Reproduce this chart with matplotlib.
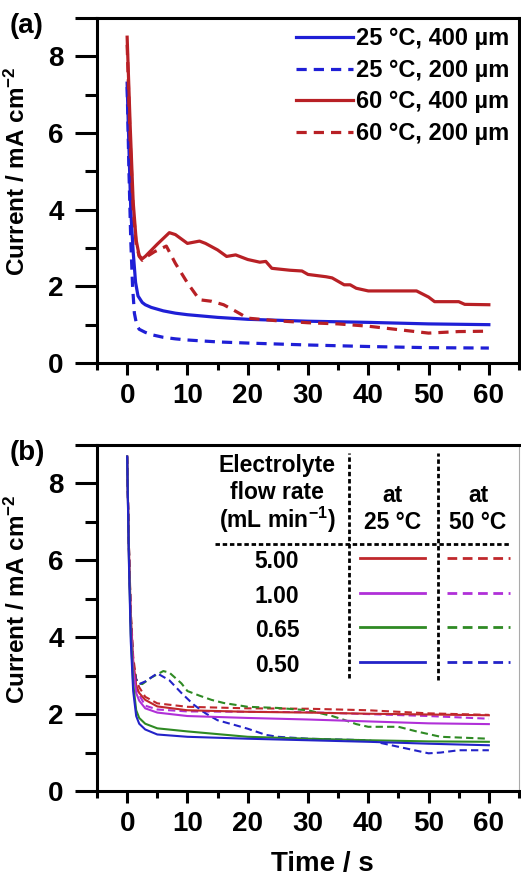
import matplotlib
matplotlib.use('Agg')
from matplotlib import pyplot as plt
from matplotlib.ticker import FixedLocator, NullFormatter

plt.rcParams['font.family'] = ['Liberation Sans', 'DejaVu Sans']
plt.rcParams['font.weight'] = 'bold'
plt.rcParams['mathtext.fontset'] = 'custom'
plt.rcParams['mathtext.bf'] = 'Liberation Sans:bold'
plt.rcParams['mathtext.rm'] = 'Liberation Sans:bold'
plt.rcParams['mathtext.default'] = 'bf'

# ---- panel (a) data ----
a_labels = ['25 °C, 400 µm', '25 °C, 200 µm', '60 °C, 400 µm', '60 °C, 200 µm']

t_a_25_400 = [0, 0.3, 0.6, 1.0, 1.4, 1.8, 2.5, 3, 4, 6, 8, 10, 15, 20, 30, 40, 50, 60]
i_a_25_400 = [7.3, 5.6, 4.0, 2.9, 2.1, 1.75, 1.58, 1.52, 1.45, 1.36, 1.3, 1.26, 1.19, 1.14, 1.09, 1.06, 1.02, 1.0]

t_a_25_200 = [0, 0.3, 0.6, 0.9, 1.2, 1.6, 2, 3, 4, 6, 8, 10, 15, 20, 30, 40, 50, 60]
i_a_25_200 = [7.2, 5.0, 3.2, 2.0, 1.3, 0.98, 0.88, 0.8, 0.74, 0.67, 0.63, 0.6, 0.55, 0.52, 0.47, 0.43, 0.4, 0.39]

t_a_60_400 = [0, 0.5, 1, 1.5, 2, 2.5, 3, 5, 7, 8, 10, 12, 13, 15, 16.5, 18, 20, 22, 23, 24, 27, 29, 30,
              33, 34, 36, 37, 38, 40, 48, 50, 51, 55, 56, 60]
i_a_60_400 = [8.5, 6.2, 4.2, 3.2, 2.8, 2.72, 2.78, 3.1, 3.4, 3.35, 3.12, 3.18, 3.12, 2.95, 2.78, 2.82, 2.7,
              2.63, 2.65, 2.47, 2.42, 2.4, 2.31, 2.25, 2.22, 2.04, 2.04, 1.95, 1.88, 1.88, 1.72, 1.6, 1.6, 1.53, 1.52]

t_a_60_200 = [0, 0.5, 1, 1.5, 2, 2.5, 3, 4.5, 6.5, 8, 10, 12, 14, 16, 18, 20, 25, 30, 35, 40, 45, 50, 55, 60]
i_a_60_200 = [8.3, 5.8, 4.0, 3.1, 2.78, 2.68, 2.75, 2.9, 3.05, 2.6, 2.09, 1.65, 1.61, 1.52, 1.35, 1.17, 1.1,
              1.05, 1.02, 0.96, 0.87, 0.78, 0.82, 0.83]

# ---- panel (b) data ----
flow_rates = ['5.00', '1.00', '0.65', '0.50']

t_b_25 = [0, 0.3, 0.6, 1, 1.5, 2, 3, 5, 10, 20, 30, 40, 50, 60]
i_b_25_500 = [8.7, 6.3, 4.6, 3.4, 2.75, 2.55, 2.37, 2.2, 2.1, 2.06, 2.04, 2.01, 1.99, 1.97]
i_b_25_100 = [8.7, 6.1, 4.4, 3.2, 2.55, 2.35, 2.15, 2.04, 1.95, 1.9, 1.86, 1.81, 1.76, 1.74]
i_b_25_065 = [8.7, 6.0, 4.1, 2.8, 2.1, 1.9, 1.75, 1.63, 1.55, 1.41, 1.36, 1.32, 1.29, 1.28]
i_b_25_050 = [8.7, 5.9, 3.9, 2.6, 1.95, 1.75, 1.6, 1.47, 1.41, 1.36, 1.32, 1.28, 1.23, 1.19]

t_b_50_500 = [0, 0.3, 0.6, 1, 1.5, 2, 3, 5, 10, 20, 30, 40, 50, 60]
i_b_50_500 = [8.7, 6.4, 4.7, 3.5, 2.9, 2.7, 2.45, 2.28, 2.19, 2.15, 2.14, 2.1, 2.02, 1.98]
i_b_50_100 = [8.7, 6.2, 4.5, 3.3, 2.7, 2.5, 2.22, 2.12, 2.07, 2.06, 2.05, 2.0, 1.95, 1.88]

t_b_50_065 = [0, 0.3, 0.6, 1, 1.5, 2, 2.5, 4, 6, 7, 9, 10, 12, 14, 16, 18, 20, 25, 30, 34, 36, 38, 40, 45, 48, 52, 60]
i_b_50_065 = [8.7, 6.3, 4.5, 3.3, 2.9, 2.8, 2.78, 2.95, 3.12, 3.08, 2.8, 2.6, 2.48, 2.37, 2.29, 2.24, 2.19,
              2.16, 2.1, 1.95, 1.85, 1.74, 1.67, 1.67, 1.55, 1.41, 1.36]

t_b_50_050 = [0, 0.3, 0.6, 1, 1.5, 2, 3, 5, 7, 9, 11, 13, 15, 18, 20, 23, 25, 30, 40, 45, 50, 52, 55, 60]
i_b_50_050 = [8.7, 6.3, 4.5, 3.3, 2.9, 2.78, 2.85, 3.06, 2.88, 2.55, 2.25, 2.02, 1.84, 1.71, 1.62, 1.46,
              1.41, 1.36, 1.32, 1.15, 0.98, 1.0, 1.06, 1.06]

fig = plt.figure(figsize=(5.21, 8.77), dpi=100)
ax_a = fig.add_axes([97 / 521, 1 - 363 / 877, 422 / 521, 345 / 877])
ax_b = fig.add_axes([97 / 521, 1 - 791 / 877, 422 / 521, 346 / 877])

blue_a = '#1f1fd6'
red_a = '#b82025'
lw_a = 2.3
ax_a.plot(t_a_25_400, i_a_25_400, color=blue_a, lw=lw_a, label=a_labels[0])
ax_a.plot(t_a_25_200, i_a_25_200, color=blue_a, lw=lw_a, ls=(0, (3.2, 2.2)), label=a_labels[1])
ax_a.plot(t_a_60_400, i_a_60_400, color=red_a, lw=lw_a, label=a_labels[2])
ax_a.plot(t_a_60_200, i_a_60_200, color=red_a, lw=lw_a, ls=(0, (3.2, 2.2)), label=a_labels[3])

ax_a.legend(loc='upper right', bbox_to_anchor=(1.0, 1.0), frameon=False, fontsize=17,
            handlelength=2.4, handletextpad=0.15, labelspacing=0.36, borderaxespad=0.2,
            borderpad=0.2)

cols_b = ['#c0282c', '#b030d8', '#2f8a24', '#2323c8']
lw_b = 1.5
dash_b = (0, (3.5, 2))
curves_25 = [i_b_25_500, i_b_25_100, i_b_25_065, i_b_25_050]
curves_50 = [(t_b_50_500, i_b_50_500), (t_b_50_500, i_b_50_100), (t_b_50_065, i_b_50_065), (t_b_50_050, i_b_50_050)]
for k in range(4):
    t50, i50 = curves_50[k]
    ax_b.plot(t50, i50, color=cols_b[k], lw=lw_b, ls=dash_b)
for k in range(4):
    ax_b.plot(t_b_25, curves_25[k], color=cols_b[k], lw=lw_b)

for ax in (ax_a, ax_b):
    ax.set_xlim(-5, 65)
    ax.set_ylim(0, 9)
    ax.xaxis.set_major_locator(FixedLocator([0, 10, 20, 30, 40, 50, 60]))
    ax.xaxis.set_minor_locator(FixedLocator([-5, 5, 15, 25, 35, 45, 55, 65]))
    ax.set_yticks([0, 2, 4, 6, 8, 9])
    ax.set_yticklabels(['0', '2', '4', '6', '8', ''])
    ax.yaxis.set_minor_locator(FixedLocator([1, 3, 5, 7]))
    ax.yaxis.set_minor_formatter(NullFormatter())
    ax.tick_params(axis='both', which='both', direction='out', width=2.2, labelsize=20)
    ax.tick_params(axis='y', which='major', length=16, pad=8)
    ax.tick_params(axis='y', which='minor', length=8.5)
    ax.tick_params(axis='x', which='major', length=8.5, pad=6)
    ax.tick_params(axis='x', which='minor', length=5)
    for s in ax.spines.values():
        s.set_linewidth(2.2)
    ax.set_ylabel('Current / mA cm$^{-2}$', fontsize=17.5, fontweight='bold')
    ax.yaxis.set_label_coords(-0.158, 0.555)
    for lab in ax.get_xticklabels() + ax.get_yticklabels():
        lab.set_fontweight('bold')

ax_b.spines['right'].set_linewidth(0.8)
ax_b.spines['right'].set_color('#aaaaaa')
ax_b.set_xlabel('Time / s', fontsize=20, fontweight='bold')
ax_b.xaxis.set_label_coords(0.533, -0.174)

# table-style key in panel (b)
tr = ax_b.transAxes
dot = (0, (1.6, 1.0))
ax_b.plot([0.597, 0.597], [0.327, 0.977], color='black', lw=2, ls=dot, transform=tr)
ax_b.plot([0.808, 0.808], [0.321, 0.977], color='black', lw=2, ls=dot, transform=tr)
ax_b.plot([0.280, 0.979], [0.714, 0.714], color='black', lw=2, ls=dot, transform=tr)
fs_t = 16.5
ax_b.text(0.4265, 0.942, 'Electrolyte', transform=tr, ha='center', va='center', fontsize=fs_t, fontweight='bold')
ax_b.text(0.4265, 0.864, 'flow rate', transform=tr, ha='center', va='center', fontsize=fs_t, fontweight='bold')
ax_b.text(0.4265, 0.783, '(mL min$^{-1}$)', transform=tr, ha='center', va='center', fontsize=fs_t, fontweight='bold')
ax_b.text(0.701, 0.855, 'at', transform=tr, ha='center', va='center', fontsize=fs_t, fontweight='bold')
ax_b.text(0.701, 0.777, '25 °C', transform=tr, ha='center', va='center', fontsize=fs_t, fontweight='bold')
ax_b.text(0.903, 0.855, 'at', transform=tr, ha='center', va='center', fontsize=fs_t, fontweight='bold')
ax_b.text(0.903, 0.777, '50 °C', transform=tr, ha='center', va='center', fontsize=fs_t, fontweight='bold')
row_y = [0.662, 0.561, 0.465, 0.364]
for k in range(4):
    ax_b.text(0.4265, row_y[k], flow_rates[k], transform=tr, ha='center', va='center', fontsize=fs_t, fontweight='bold')
    ax_b.plot([0.623, 0.777], [row_y[k] + 0.01, row_y[k] + 0.01], color=cols_b[k], lw=2, transform=tr)
    ax_b.plot([0.829, 0.979], [row_y[k] + 0.01, row_y[k] + 0.01], color=cols_b[k], lw=2, ls=dash_b, transform=tr)

fig.text(27 / 521, 1 - 26 / 877, '(a)', ha='center', va='center', fontsize=20, fontweight='bold')
fig.text(27 / 521, 1 - 453 / 877, '(b)', ha='center', va='center', fontsize=20, fontweight='bold')

plt.savefig('out.png', dpi=100)
plt.close()
